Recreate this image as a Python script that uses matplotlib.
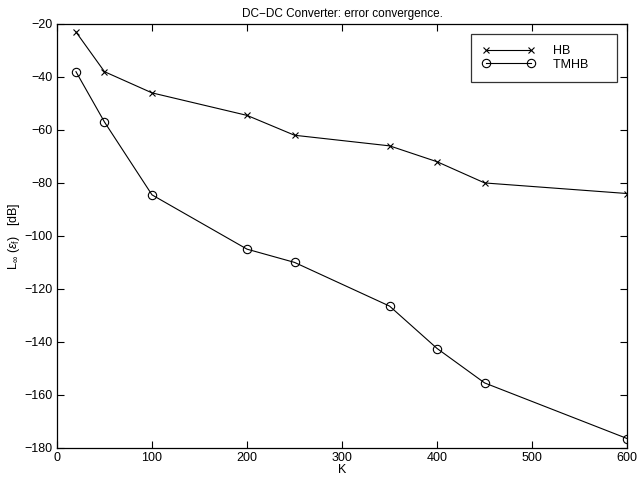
import numpy as np
import matplotlib
matplotlib.use("Agg")
import matplotlib.pyplot as plt

K = [20, 50, 100, 200, 250, 350, 400, 450, 600]
hb = [-23, -38, -46, -54.5, -62, -66, -72, -80, -84]
tmhb = [-38, -57, -84.5, -105, -110, -126.5, -142.5, -155.5, -176.5]

x_ticks = [0, 100, 200, 300, 400, 500, 600]
y_ticks = [-180, -160, -140, -120, -100, -80, -60, -40, -20]

plt.rcParams["font.family"] = ["Liberation Sans", "DejaVu Sans"]
plt.rcParams["mathtext.fontset"] = "custom"
plt.rcParams["mathtext.rm"] = "Liberation Sans"
plt.rcParams["mathtext.it"] = "Liberation Sans:italic"

fig = plt.figure(figsize=(6.4, 4.8), dpi=100)
ax = fig.add_axes([0.089, 0.067, 0.891, 0.883])

ax.plot(K, hb, color="black", linewidth=0.8, marker="x", markersize=5,
        markeredgewidth=0.8, label="HB        ")
ax.plot(K, tmhb, color="black", linewidth=0.8, marker="o", markersize=6,
        markerfacecolor="none", markeredgewidth=0.8, label="TMHB     ")

ax.set_xlim(0, 600)
ax.set_ylim(-180, -20)
ax.set_xticks(x_ticks)
ax.set_yticks(y_ticks)
ax.set_yticklabels([str(v).replace("-", "\u2212") for v in y_ticks])
ax.tick_params(direction="in", top=True, right=True, labelsize=9, length=5,
               width=0.8, pad=3)
for s in ax.spines.values():
    s.set_linewidth(0.9)

ax.set_xlabel("K", fontsize=9, labelpad=0)
ax.set_ylabel(r"$\mathrm{L}_{\infty}\ (\varepsilon_{\mathrm{f}})$   [dB]",
              fontsize=9, labelpad=2)
ax.set_title("DC\u2212DC Converter: error convergence.", fontsize=8.5, pad=5)

leg = ax.legend(loc="upper right", numpoints=2, fontsize=9, frameon=True,
                fancybox=False, edgecolor="black", borderaxespad=0.8,
                handlelength=4.2, handletextpad=1.5, borderpad=0.9,
                labelspacing=0.1)
leg.get_frame().set_linewidth(0.9)

fig.savefig("out.png", dpi=100)
